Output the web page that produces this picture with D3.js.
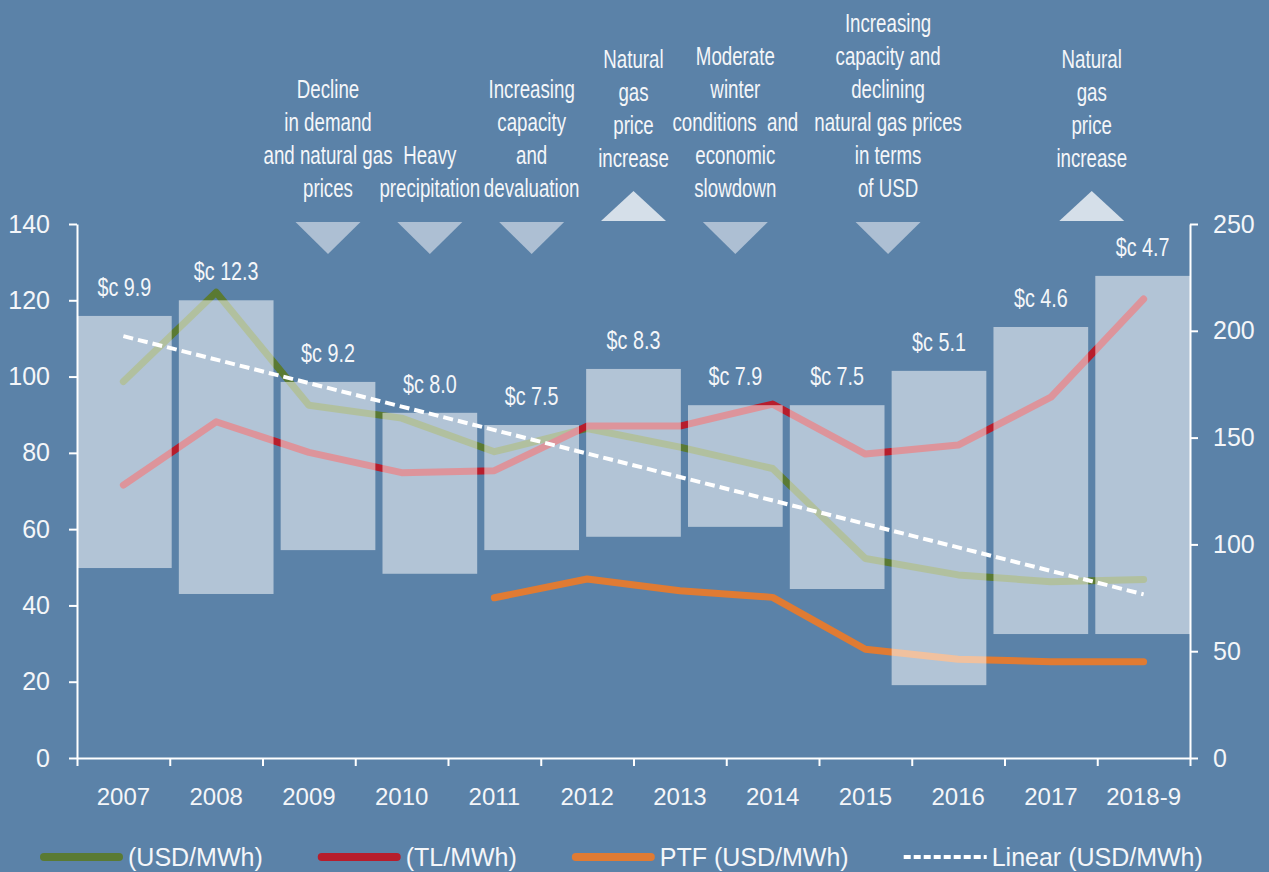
<!DOCTYPE html>
<html>
<head>
<meta charset="utf-8">
<script src="https://cdn.jsdelivr.net/npm/d3@7"></script>
<style>
  body { margin: 0; background: #5b82a8; }
  text { font-family: "Liberation Sans", Arial, sans-serif; fill: #f4f6f9; }
  .cond { white-space: pre; }
</style>
</head>
<body>
<div id="chart"></div>
<script>
// categories for the lines
const years = ['2007', '2008', '2009', '2010', '2011', '2012', '2013', '2014', '2015', '2016', '2017', '2018-9']

// line series
const usdMwh = [98.7, 122.1, 92.5, 89.1, 80.3, 86.4, 81.5, 75.9, 52.3, 48.0, 46.2, 46.8]
const tlMwh = [127.8, 157.4, 143.1, 133.6, 134.5, 155.4, 155.4, 165.7, 142.3, 146.5, 168.9, 214.9]
const ptfUsd = [null, null, null, null, 75.0, 83.8, 78.3, 75.2, 50.9, 46.2, 45.1, 45.1]
const linearYears = ['2007', '2018-9']
const linearUsd = [110.6, 42.9]

// floating range bars (left axis units) and their labels
const barLabels = ['$c 9.9', '$c 12.3', '$c 9.2', '$c 8.0', '$c 7.5', '$c 8.3', '$c 7.9', '$c 7.5', '$c 5.1', '$c 4.6', '$c 4.7']
const barLow = [49.8, 43.0, 54.5, 48.3, 54.5, 58.0, 60.6, 44.3, 19.1, 32.5, 32.5]
const barHigh = [115.9, 120.0, 98.6, 90.5, 87.3, 102.0, 92.5, 92.5, 101.5, 113.0, 126.4]

// annotations: anchored on the bar slots
const annoSlot = [2, 3, 4, 5, 6, 7.5, 9.5]
const annoDir = ['down', 'down', 'down', 'up', 'down', 'down', 'up']
const annoText = [
  ['Decline', 'in demand', 'and natural gas', 'prices'],
  ['Heavy', 'precipitation'],
  ['Increasing', 'capacity', 'and', 'devaluation'],
  ['Natural', 'gas', 'price', 'increase'],
  ['Moderate', 'winter', 'conditions  and', 'economic', 'slowdown'],
  ['Increasing', 'capacity and', 'declining', 'natural gas prices', 'in terms', 'of USD'],
  ['Natural', 'gas', 'price', 'increase']
]

// axes ticks
const leftTicks = [0, 20, 40, 60, 80, 100, 120, 140]
const rightTicks = [0, 50, 100, 150, 200, 250]

// legend
const legendNames = ['(USD/MWh)', '(TL/MWh)', 'PTF (USD/MWh)', 'Linear (USD/MWh)']
const legendColors = ['#5a7a33', '#b71d2c', '#e07b33', '#ffffff']

const margin = { top: 224, left: 77, right: 79, bottom: 114 }
const width = 1269 - margin.left - margin.right
const height = 872 - margin.top - margin.bottom

const root = d3
  .select('#chart')
  .append('svg')
  .attr('width', 1269)
  .attr('height', 872)

root.append('rect').attr('width', 1269).attr('height', 872).attr('fill', '#5b82a8')

const svg = root.append('g').attr('transform', 'translate(' + margin.left + ',' + margin.top + ')')

const xScale = d3.scaleBand().domain(years).range([0, width])
const xMid = d => xScale(d) + xScale.bandwidth() / 2
const xEdge = d3.scaleLinear().domain([0, years.length]).range([0, width])
const yLeft = d3.scaleLinear().domain([0, 140]).range([height, 0])
const yRight = d3.scaleLinear().domain([0, 250]).range([height, 0])

const barScale = d3.scaleBand().domain(d3.range(barLabels.length)).range([0, width]).paddingInner(0.07)
const slotX = d3
  .scaleLinear()
  .domain([0, barLabels.length - 1])
  .range([barScale(0) + barScale.bandwidth() / 2, barScale(barLabels.length - 1) + barScale.bandwidth() / 2])

// lines below the bars
function drawLine(values, scale, color) {
  const line = d3
    .line()
    .defined(d => d.v !== null)
    .x(d => xMid(d.year))
    .y(d => scale(d.v))
  svg
    .append('path')
    .datum(years.map((year, i) => ({ year: year, v: values[i] })))
    .attr('d', line)
    .attr('fill', 'none')
    .attr('stroke', color)
    .attr('stroke-width', 7)
    .attr('stroke-linejoin', 'round')
    .attr('stroke-linecap', 'round')
}
drawLine(usdMwh, yLeft, legendColors[0])
drawLine(tlMwh, yRight, legendColors[1])
drawLine(ptfUsd, yRight, legendColors[2])

// translucent range bars
svg
  .selectAll('.range-bar')
  .data(barLabels)
  .enter()
  .append('rect')
  .attr('class', 'range-bar')
  .attr('x', (d, i) => barScale(i))
  .attr('width', barScale.bandwidth())
  .attr('y', (d, i) => yLeft(barHigh[i]))
  .attr('height', (d, i) => yLeft(barLow[i]) - yLeft(barHigh[i]))
  .attr('fill', '#ffffff')
  .attr('fill-opacity', 0.53)

svg
  .selectAll('.bar-label')
  .data(barLabels)
  .enter()
  .append('text')
  .attr('class', 'bar-label cond')
  .attr('text-anchor', 'middle')
  .attr('font-size', 26)
  .attr('transform', (d, i) => `translate(${barScale(i) + barScale.bandwidth() / 2},${yLeft(barHigh[i]) - 20}) scale(0.76,1)`)
  .text(d => d)

// linear trend
svg
  .append('path')
  .datum(linearYears.map((year, i) => ({ year: year, v: linearUsd[i] })))
  .attr('d', d3.line().x(d => xMid(d.year)).y(d => yLeft(d.v)))
  .attr('fill', 'none')
  .attr('stroke', '#ffffff')
  .attr('stroke-width', 4)
  .attr('stroke-dasharray', '10,5')

// axes
const leftAxis = d3.axisLeft(yLeft).tickValues(leftTicks).tickSize(8).tickSizeOuter(0).tickPadding(19)
const gl = svg.append('g').attr('class', 'axis').call(leftAxis)

const rightAxis = d3.axisRight(yRight).tickValues(rightTicks).tickSize(8).tickSizeOuter(0).tickPadding(15)
const gr = svg.append('g').attr('class', 'axis').attr('transform', `translate(${width},0)`).call(rightAxis)

const edgeAxis = d3.axisBottom(xEdge).tickValues(d3.range(years.length + 1)).tickSize(8).tickSizeOuter(0).tickFormat('')
const ge = svg.append('g').attr('class', 'axis').attr('transform', `translate(0,${height})`).call(edgeAxis)

const yearAxis = d3.axisBottom(xScale).tickSize(0).tickPadding(30)
const gy = svg.append('g').attr('class', 'axis').attr('transform', `translate(0,${height})`).call(yearAxis)
gy.select('.domain').remove()

root.selectAll('.axis path, .axis line').attr('stroke', '#ffffff').attr('stroke-width', 2)
root.selectAll('.axis text').attr('fill', '#f4f6f9').attr('font-family', '"Liberation Sans", Arial, sans-serif')
gl.selectAll('text').attr('font-size', 25)
gr.selectAll('text').attr('font-size', 25)
gy.selectAll('text').attr('font-size', 24)

// annotations with arrows
const lineGap = 33
annoText.forEach((lines, k) => {
  const cx = slotX(annoSlot[k])
  const up = annoDir[k] === 'up'
  const lastY = up ? -66 : -36
  const g = svg.append('g').attr('class', 'annotation')
  g.append('path')
    .attr('d', up
      ? `M${cx - 32.5},-3L${cx + 32.5},-3L${cx},-33Z`
      : `M${cx - 32.5},-2L${cx + 32.5},-2L${cx},30Z`)
    .attr('fill', up ? '#d5dfe9' : '#adbfd3')
  g.selectAll('text')
    .data(lines)
    .enter()
    .append('text')
    .attr('class', 'cond')
    .attr('text-anchor', 'middle')
    .attr('font-size', 26)
    .attr('dy', '0.35em')
    .attr('transform', (d, i) => `translate(${cx},${lastY - (lines.length - 1 - i) * lineGap}) scale(0.72,1)`)
    .text(d => d)
})

// legend
const legend = root.append('g').attr('transform', 'translate(40,857)')
let lx = 0
legendNames.forEach((name, i) => {
  const item = legend.append('g').attr('transform', `translate(${lx},0)`)
  const dashed = i === 3
  item.append('line')
    .attr('x1', dashed ? 0 : 4)
    .attr('x2', dashed ? 83 : 79)
    .attr('stroke', legendColors[i])
    .attr('stroke-width', dashed ? 4 : 8)
    .attr('stroke-linecap', dashed ? 'butt' : 'round')
    .attr('stroke-dasharray', dashed ? '7,3' : null)
  const t = item.append('text')
    .attr('x', 88)
    .attr('dy', '0.35em')
    .attr('font-size', 25)
    .text(name)
  lx += 88 + t.node().getComputedTextLength() + 55
})
</script>
</body>
</html>
